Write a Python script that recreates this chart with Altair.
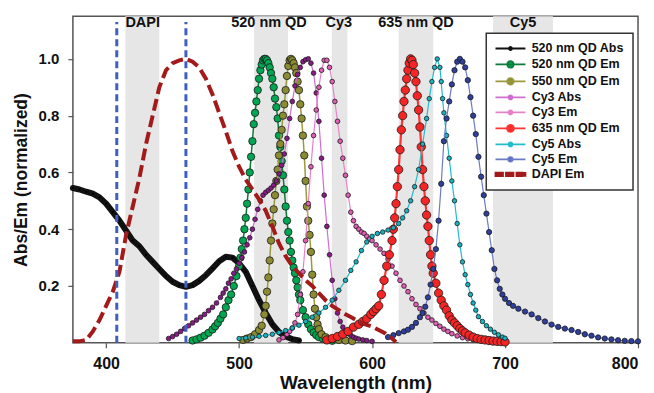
import altair as alt
import pandas as pd

FONT = "Liberation Sans"

SERIES = ["520 nm QD Abs", "520 nm QD Em", "550 nm QD Em", "Cy3 Abs", "Cy3 Em",
          "635 nm QD Em", "Cy5 Abs", "Cy5 Em", "DAPI Em"]

ABS520_NM = list(range(375, 550, 5))
ABS520_VAL = [0.545, 0.54, 0.532, 0.525, 0.512, 0.49, 0.46, 0.43, 0.395, 0.36,
              0.34, 0.31, 0.285, 0.26, 0.235, 0.215, 0.203, 0.197, 0.203, 0.218,
              0.238, 0.262, 0.287, 0.303, 0.3, 0.28, 0.25, 0.2, 0.15, 0.105,
              0.065, 0.038, 0.022, 0.013, 0.008]

EM520 = [[465, 0.008], [468, 0.012], [471, 0.018], [474, 0.025], [477, 0.035], [480, 0.047],
         [482, 0.058], [484, 0.07], [486, 0.085], [488, 0.1], [490, 0.125], [492, 0.15],
         [494, 0.17], [496, 0.2], [498, 0.235], [500, 0.27], [501, 0.3], [502, 0.33],
         [503, 0.36], [504, 0.4], [505, 0.44], [506, 0.49], [507, 0.54], [508, 0.6],
         [509, 0.655], [510, 0.71], [511, 0.77], [512, 0.81], [513, 0.85], [514, 0.89],
         [515, 0.93], [516, 0.96], [517, 0.98], [518, 0.995], [519, 1.0], [520, 1.0],
         [521, 0.995], [522, 0.985], [523, 0.97], [524, 0.95], [525, 0.93], [526, 0.9],
         [527, 0.86], [528, 0.83], [529, 0.79], [530, 0.73], [531, 0.69], [532, 0.64],
         [533, 0.59], [534, 0.54], [535, 0.48], [536, 0.43], [537, 0.39], [538, 0.36],
         [539, 0.32], [540, 0.29], [541, 0.265], [542, 0.245], [543, 0.22], [544, 0.195],
         [545, 0.17], [546, 0.15], [548, 0.115], [550, 0.09], [552, 0.065], [554, 0.048],
         [556, 0.036], [558, 0.027], [560, 0.02], [563, 0.014], [566, 0.01], [570, 0.007]]

EM550 = [[503, 0.01], [506, 0.015], [509, 0.02], [512, 0.03], [515, 0.045], [517, 0.06],
         [519, 0.1], [520, 0.13], [521, 0.18], [522, 0.23], [523, 0.29], [524, 0.36],
         [525, 0.42], [526, 0.47], [527, 0.52], [528, 0.57], [529, 0.61], [530, 0.66],
         [531, 0.7], [532, 0.75], [533, 0.8], [534, 0.84], [535, 0.89], [536, 0.94],
         [537, 0.975], [538, 0.995], [539, 1.0], [540, 0.995], [541, 0.985], [542, 0.97],
         [543, 0.95], [544, 0.92], [545, 0.89], [546, 0.84], [547, 0.79], [548, 0.73],
         [549, 0.66], [550, 0.57], [551, 0.48], [552, 0.43], [553, 0.38], [554, 0.32],
         [555, 0.24], [556, 0.17], [557, 0.12], [558, 0.09], [559, 0.065], [560, 0.048],
         [562, 0.03], [565, 0.02], [570, 0.013], [575, 0.01], [580, 0.008], [585, 0.006]]

CY3_ABS = [[447, 0.015], [450, 0.022], [453, 0.03], [456, 0.04], [459, 0.05], [462, 0.06],
           [465, 0.07], [468, 0.08], [471, 0.09], [474, 0.1], [477, 0.113], [480, 0.125],
           [483, 0.14], [486, 0.16], [488, 0.175], [490, 0.19], [492, 0.21], [494, 0.225],
           [496, 0.245], [498, 0.26], [500, 0.28], [502, 0.3], [504, 0.32], [506, 0.345],
           [508, 0.37], [510, 0.4], [512, 0.435], [514, 0.47], [516, 0.5], [518, 0.52],
           [520, 0.53], [522, 0.537], [524, 0.545], [526, 0.555], [528, 0.57], [530, 0.595],
           [532, 0.625], [534, 0.665], [536, 0.72], [538, 0.79], [540, 0.85], [542, 0.905],
           [544, 0.945], [546, 0.97], [548, 0.99], [550, 0.997], [552, 1.0], [554, 0.985],
           [556, 0.95], [558, 0.88], [560, 0.78], [562, 0.65], [564, 0.52], [566, 0.41],
           [568, 0.31], [570, 0.22], [572, 0.155], [574, 0.105], [576, 0.075], [578, 0.055],
           [580, 0.04], [582, 0.032], [584, 0.026], [586, 0.02], [588, 0.016], [590, 0.013],
           [593, 0.01], [596, 0.008], [600, 0.005]]

CY3_EM = [[530, 0.01], [533, 0.018], [536, 0.03], [538, 0.04], [540, 0.052], [542, 0.07],
          [544, 0.1], [546, 0.17], [548, 0.25], [550, 0.36], [552, 0.49], [554, 0.62],
          [556, 0.73], [558, 0.82], [560, 0.9], [562, 0.96], [564, 0.995], [566, 0.995],
          [568, 0.97], [570, 0.92], [572, 0.85], [574, 0.78], [576, 0.71], [578, 0.65],
          [580, 0.59], [582, 0.52], [584, 0.46], [586, 0.43], [588, 0.41], [590, 0.4],
          [592, 0.39], [594, 0.385], [596, 0.375], [598, 0.365], [600, 0.36], [603, 0.345],
          [606, 0.33], [609, 0.315], [612, 0.295], [615, 0.27], [618, 0.245], [621, 0.22],
          [624, 0.2], [627, 0.18], [630, 0.155], [633, 0.135], [636, 0.12], [639, 0.105],
          [642, 0.09], [645, 0.08], [648, 0.068], [651, 0.058], [654, 0.048], [657, 0.04],
          [660, 0.032], [664, 0.024], [668, 0.018], [672, 0.014], [676, 0.011], [680, 0.009],
          [685, 0.007], [690, 0.005]]

EM635 = [[566, 0.01], [570, 0.015], [574, 0.022], [578, 0.03], [582, 0.04], [586, 0.055],
         [590, 0.065], [593, 0.075], [596, 0.085], [599, 0.1], [601, 0.11], [603, 0.12],
         [605, 0.13], [607, 0.17], [609, 0.22], [611, 0.27], [613, 0.31], [615, 0.36],
         [616, 0.4], [617, 0.44], [618, 0.49], [619, 0.55], [620, 0.61], [621, 0.68],
         [622, 0.75], [623, 0.8], [624, 0.85], [625, 0.89], [626, 0.93], [627, 0.96],
         [628, 0.985], [629, 1.0], [630, 0.995], [631, 0.98], [632, 0.95], [633, 0.92],
         [634, 0.87], [635, 0.82], [636, 0.76], [637, 0.69], [638, 0.61], [639, 0.55],
         [640, 0.5], [641, 0.45], [642, 0.41], [643, 0.36], [644, 0.31], [645, 0.27],
         [646, 0.245], [648, 0.21], [650, 0.175], [652, 0.15], [654, 0.13], [656, 0.115],
         [658, 0.095], [660, 0.08], [662, 0.07], [664, 0.06], [666, 0.05], [668, 0.042],
         [670, 0.035], [673, 0.027], [676, 0.02], [679, 0.015], [682, 0.012], [685, 0.01],
         [688, 0.008], [691, 0.006], [694, 0.005], [697, 0.004], [700, 0.003]]

CY5_ABS = [[500, 0.015], [505, 0.017], [510, 0.02], [515, 0.023], [520, 0.026], [525, 0.03],
           [530, 0.036], [535, 0.043], [540, 0.052], [545, 0.062], [550, 0.075], [555, 0.09],
           [560, 0.105], [565, 0.125], [570, 0.15], [575, 0.185], [580, 0.22], [584, 0.255],
           [588, 0.285], [592, 0.325], [596, 0.355], [600, 0.375], [604, 0.385], [608, 0.39],
           [612, 0.397], [616, 0.405], [620, 0.42], [623, 0.44], [626, 0.465], [629, 0.5],
           [632, 0.55], [635, 0.61], [638, 0.7], [641, 0.79], [643, 0.86], [645, 0.92],
           [647, 0.97], [649, 1.0], [651, 0.97], [652, 0.92], [653, 0.86], [654, 0.81],
           [656, 0.73], [658, 0.65], [660, 0.57], [662, 0.5], [664, 0.42], [666, 0.345],
           [668, 0.285], [670, 0.24], [672, 0.205], [674, 0.17], [676, 0.14], [678, 0.115],
           [680, 0.092], [683, 0.075], [686, 0.06], [689, 0.048], [692, 0.037], [695, 0.028],
           [698, 0.02], [700, 0.016]]

CY5_EM = [[612, 0.02], [616, 0.027], [620, 0.034], [624, 0.04], [627, 0.046], [630, 0.056],
          [633, 0.07], [636, 0.09], [638, 0.105], [640, 0.127], [642, 0.16], [644, 0.205],
          [646, 0.26], [648, 0.33], [650, 0.43], [652, 0.56], [654, 0.71], [656, 0.79],
          [658, 0.85], [660, 0.91], [662, 0.96], [664, 0.99], [666, 1.0], [668, 0.99],
          [670, 0.97], [672, 0.925], [674, 0.865], [676, 0.8], [678, 0.735], [680, 0.655],
          [682, 0.585], [684, 0.52], [686, 0.455], [688, 0.39], [690, 0.326], [692, 0.26],
          [694, 0.22], [696, 0.19], [698, 0.17], [700, 0.155], [703, 0.14], [706, 0.13],
          [710, 0.12], [715, 0.11], [720, 0.1], [725, 0.087], [730, 0.075], [735, 0.064],
          [740, 0.056], [745, 0.05], [750, 0.045], [755, 0.038], [760, 0.03], [765, 0.025],
          [770, 0.019], [775, 0.015], [780, 0.012], [785, 0.009], [790, 0.007], [795, 0.006],
          [800, 0.005]]

DAPI_EM = [[375, 0.005], [380, 0.005], [385, 0.01], [390, 0.04], [395, 0.08], [400, 0.13],
           [405, 0.18], [410, 0.25], [415, 0.38], [420, 0.48], [425, 0.58], [430, 0.7],
           [435, 0.8], [440, 0.9], [445, 0.96], [450, 0.985], [455, 0.995], [460, 1.0],
           [465, 0.99], [470, 0.97], [475, 0.93], [480, 0.875], [485, 0.81], [490, 0.745],
           [495, 0.675], [500, 0.62], [505, 0.575], [510, 0.54], [515, 0.505], [520, 0.465],
           [525, 0.41], [530, 0.35], [535, 0.305], [540, 0.27], [545, 0.245], [550, 0.22],
           [555, 0.2], [560, 0.175], [565, 0.15], [570, 0.13], [575, 0.115], [580, 0.1],
           [585, 0.088], [590, 0.075], [595, 0.065], [600, 0.057], [605, 0.045], [610, 0.033],
           [615, 0.015], [618, 0.003]]

# filter bands and labels
BAND_START = [414.5, 511.3, 569.7, 620.0, 691.0]
BAND_END = [440.0, 536.8, 581.4, 646.0, 736.0]
BAND_LABELS = ["DAPI", "520 nm QD", "Cy3", "635 nm QD", "Cy5"]
LABEL_NM = [427.5, 522.5, 575.0, 633.0, 713.5]
LABEL_Y = 1.126
LASER_NM = [408, 460]
LASER_TOP = 1.13

# styles
FILL = ["#000000", "#00a651", "#8b8b33", "#8b1a89", "#e35db5", "#f42525", "#17b3c1", "#2e3f9e", "#a31a1a"]
STROKE = ["#111111", "#0b7d3b", "#9a9a3c", "#cf6fcf", "#e683c6", "#ff3535", "#23bccb", "#6b7bc6", "#a31a1a"]
SIZE = [12, 55, 55, 22, 22, 70, 20, 28, 0]
LINE_W = [6, 1.5, 1.5, 1.2, 1.2, 2.2, 1.2, 1.2, 4]


def sym(r):
    return ("M-3,0L3,0 M-%s,0A%s,%s 0 1,0 %s,0A%s,%s 0 1,0 -%s,0Z" % (r, r, r, r, r, r, r))


DASHES = ("M-3,-0.35L-1.5,-0.35L-1.5,0.35L-3,0.35Z M-0.9,-0.35L0.6,-0.35L0.6,0.35L-0.9,0.35Z "
          "M1.2,-0.35L2.4,-0.35L2.4,0.35L1.2,0.35Z M2.75,-0.3L3,-0.3L3,0.3L2.75,0.3Z")
SHAPES = [sym(0.3), sym(0.65), sym(0.65), sym(0.4), sym(0.4), sym(0.7), sym(0.4), sym(0.45), DASHES]

series_points = [list(zip(ABS520_NM, ABS520_VAL)), EM520, EM550, CY3_ABS, CY3_EM,
                 EM635, CY5_ABS, CY5_EM, DAPI_EM]
rows = []
for name, pts in zip(SERIES, series_points):
    for w, v in pts:
        rows.append({"series": name, "nm": w, "val": v})
df = pd.DataFrame(rows)

bands = pd.DataFrame({"start": BAND_START, "end": BAND_END, "y0": 0.0, "y1": 1.15})
labels = pd.DataFrame({"label": BAND_LABELS, "nm": LABEL_NM, "y": LABEL_Y})
lasers = pd.DataFrame({"nm": LASER_NM, "y0": 0.0, "y1": LASER_TOP})

xs = alt.Scale(domain=[375, 800], nice=False, zero=False)
ys = alt.Scale(domain=[0, 1.15], nice=False, zero=False)

xaxis = alt.Axis(values=[400, 500, 600, 700, 800], format="d", title="Wavelength (nm)",
                 grid=False, domain=False, tickSize=5, tickColor="#555", tickWidth=1.2,
                 labelFont=FONT, labelFontSize=16, labelFontWeight="bold", labelColor="#111",
                 labelPadding=8, titleFont=FONT, titleFontSize=19, titleFontWeight="bold",
                 titleColor="#111", titlePadding=2)
yaxis = alt.Axis(values=[0.2, 0.4, 0.6, 0.8, 1.0], format=".1f", title="Abs/Em (normalized)",
                 grid=False, domain=False, tickSize=5, tickColor="#555", tickWidth=1.2,
                 labelFont=FONT, labelFontSize=15, labelFontWeight="bold", labelColor="#111",
                 labelPadding=9, titleFont=FONT, titleFontSize=17.5, titleFontWeight="bold",
                 titleColor="#111", titlePadding=8)


def X(field):
    return alt.X(field, scale=xs, axis=xaxis, title="Wavelength (nm)")


def Y(field):
    return alt.Y(field, scale=ys, axis=yaxis, title="Abs/Em (normalized)")


layers = []
layers.append(
    alt.Chart(bands).mark_rect(color="#e6e6e6").encode(
        x=X("start:Q"), x2="end:Q", y=Y("y0:Q"), y2="y1:Q",
    )
)

for i, name in enumerate(SERIES[:8]):
    base = alt.Chart(df).transform_filter(alt.datum.series == name)
    layers.append(
        base.mark_line(stroke=STROKE[i], strokeWidth=LINE_W[i], strokeCap="round",
                       strokeJoin="round").encode(x=X("nm:Q"), y=Y("val:Q"))
    )
    layers.append(
        base.mark_point(filled=True, fill=FILL[i], stroke="#1a1a1a", strokeWidth=0.8,
                        size=SIZE[i], opacity=1).encode(x=X("nm:Q"), y=Y("val:Q"))
    )

layers.append(
    alt.Chart(df).transform_filter(alt.datum.series == "DAPI Em").mark_line(
        stroke=STROKE[8], strokeWidth=LINE_W[8], strokeDash=[12, 5]).encode(
        x=X("nm:Q"), y=Y("val:Q"))
)

layers.append(
    alt.Chart(lasers).mark_rule(color="#3f5fbf", strokeWidth=3, strokeDash=[7, 4]).encode(
        x=X("nm:Q"), y=Y("y0:Q"), y2="y1:Q")
)

layers.append(
    alt.Chart(labels).mark_text(font=FONT, fontSize=14.5, fontWeight="bold", color="#111",
                                baseline="middle", align="center").encode(
        x=X("nm:Q"), y=Y("y:Q"), text="label:N")
)

leg = alt.Legend(title=None, orient="none", legendX=414, legendY=17)
layers.append(
    alt.Chart(df).transform_filter("false").mark_point(filled=True, opacity=1).encode(
        x=X("nm:Q"), y=Y("val:Q"),
        fill=alt.Fill("series:N", scale=alt.Scale(domain=SERIES, range=FILL), legend=leg),
        stroke=alt.Stroke("series:N", scale=alt.Scale(domain=SERIES, range=STROKE), legend=leg),
        shape=alt.Shape("series:N", scale=alt.Scale(domain=SERIES, range=SHAPES), legend=leg),
    )
)

chart = alt.layer(*layers).properties(
    width=566, height=327,
    autosize=alt.AutoSizeParams(type="none"),
    padding={"left": 65, "top": 8, "right": 8, "bottom": 50},
).configure_view(
    stroke="#555", strokeWidth=1.5
).configure_legend(
    fillColor="white", strokeColor="#333", strokeWidth=1.5, padding=9, rowPadding=2,
    labelFont=FONT, labelFontSize=12.5, labelFontWeight="bold", labelColor="#111",
    symbolSize=100, symbolStrokeWidth=1.8, symbolOffset=9, labelOffset=15,
    labelLimit=200,
)

chart.save("out.html", embed_options={"renderer": "svg", "actions": False})
